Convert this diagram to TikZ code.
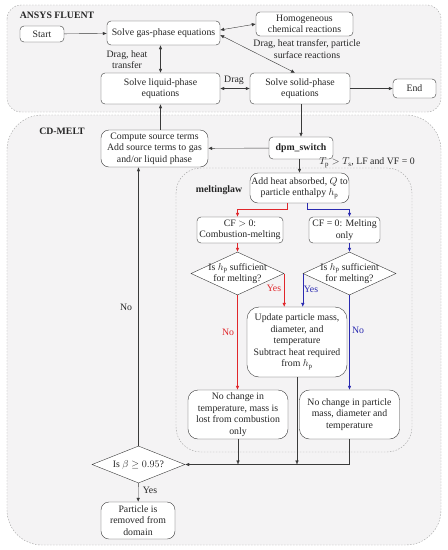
\documentclass[tikz,border=0pt]{standalone}
\usepackage{amsmath,amssymb}
\usepackage{fontspec}
\setmainfont{Liberation Serif}
\usepackage{tikz}
\usetikzlibrary{shapes.geometric,arrows.meta,positioning,calc}

\definecolor{regionfill}{HTML}{F4F3F4}
\definecolor{linegray}{HTML}{3A3A3A}
\definecolor{redline}{HTML}{E0262B}
\definecolor{blueline}{HTML}{2A2AB0}

\begin{document}
\begin{tikzpicture}[x=1pt, y=-1pt,
    every node/.style={font=\fontsize{9.8}{11.5}\selectfont, text=black!85},
    box/.style={draw=linegray, fill=white, rounded corners=4pt, align=center, inner sep=1pt},
    dia/.style={draw=linegray, fill=white, diamond, inner sep=0pt},
    region/.style={draw=gray!75, dash pattern=on 1.5pt off 1.5pt, fill=regionfill},
    arr/.style={draw=linegray, -{Latex[length=4pt,width=3.5pt]}},
    darr/.style={draw=linegray, {Latex[length=4pt,width=3.5pt]}-{Latex[length=4pt,width=3.5pt]}},
    tag/.style={font=\fontsize{9.8}{11.5}\selectfont\bfseries}]
    \useasboundingbox (0,0) rectangle (448,550);

    % Regions
    \draw[region, rounded corners=14pt] (7,5) rectangle (441,112);
    \draw[region, rounded corners=35pt] (7,115) rectangle (441,545);
    \draw[region, rounded corners=25pt] (176,168) rectangle (412,452);
    \node[tag] (fluent) at (57,15) {ANSYS FLUENT};
    \node[tag] (cdmelt) at (62,131) {CD-MELT};
    \node[tag] (mlaw) at (219,190) {meltinglaw};

    % ANSYS FLUENT nodes
    \node[box, minimum width=44pt, minimum height=16pt] (start) at (42,34) {Start};
    \node[box, minimum width=113pt, minimum height=24pt] (gas) at (163.5,33) {Solve gas-phase equations};
    \node[box, minimum width=97pt, minimum height=24pt] (homog) at (304.5,24) {Homogeneous\\chemical reactions};
    \node[box, minimum width=119pt, minimum height=31pt] (liquid) at (160.5,88.5) {Solve liquid-phase\\equations};
    \node[box, minimum width=100pt, minimum height=31pt] (solid) at (300,88.5) {Solve solid-phase\\equations};
    \node[box, minimum width=43pt, minimum height=19pt] (end) at (414.5,88.5) {End};

    % CD-MELT nodes
    \node[box, rounded corners=8pt, minimum width=107pt, minimum height=37pt] (compute) at (154.5,148.5) {Compute source terms\\Add source terms to gas\\and/or liquid phase};
    \node[box, minimum width=64pt, minimum height=22pt, font=\fontsize{9.8}{11.5}\selectfont\bfseries] (dpm) at (301,148) {dpm\_switch};
    \node[dia, minimum width=93pt, minimum height=37pt, label={[align=center]center:Is $\beta \geq 0.95$?}] (beta) at (138.5,464.5) {};
    \node[box, rounded corners=8pt, minimum width=74pt, minimum height=37pt] (removed) at (138,520.5) {Particle is\\removed from\\domain};

    % meltinglaw nodes
    \node[box, rounded corners=8pt, minimum width=99pt, minimum height=30pt] (addheat) at (299.5,188) {Add heat absorbed, $Q$ to\\particle enthalpy $h_\mathrm{p}$};
    \node[box, minimum width=86pt, minimum height=26pt] (cfpos) at (240,230) {CF $>$ 0:\\Combustion-melting};
    \node[box, minimum width=71pt, minimum height=26pt] (cfzero) at (344.5,230) {CF = 0: Melting\\only};
    \node[dia, minimum width=93pt, minimum height=43pt, label={[align=center]center:Is $h_\mathrm{p}$ sufficient\\for melting?}] (dl) at (237.5,273.5) {};
    \node[dia, minimum width=93pt, minimum height=43pt, label={[align=center]center:Is $h_\mathrm{p}$ sufficient\\for melting?}] (dr) at (349.5,273.5) {};
    \node[box, rounded corners=12pt, minimum width=100pt, minimum height=70pt] (update) at (297,342) {Update particle mass,\\diameter, and\\temperature\\Subtract heat required\\from $h_\mathrm{p}$};
    \node[box, rounded corners=10pt, minimum width=100pt, minimum height=49pt] (nl) at (238,414.5) {No change in\\temperature, mass is\\lost from combustion\\only};
    \node[box, rounded corners=10pt, minimum width=100pt, minimum height=49pt] (nr) at (349.5,414.5) {No change in particle\\mass, diameter and\\temperature};

    % ANSYS FLUENT connectors
    \draw[arr] (start) -- (gas);
    \draw[darr] ([yshift=3pt]gas.east) -- (homog.west);
    \draw[darr] ([yshift=-2pt]gas.east) -- ([xshift=-5pt]solid.north);
    \draw[darr] (liquid.north |- gas.south) -- (liquid.north);
    \draw[darr] (liquid) -- (solid);
    \draw[arr] (solid) -- (end);
    \node (lbl1) at (127,59.5) [align=center] {Drag, heat\\transfer};
    \node (lbl2) at (307,49) [align=center] {Drag, heat transfer, particle\\surface reactions};
    \node (lbl3) at (234,80) {Drag};

    % CD-MELT connectors
    \draw[arr] (solid.south -| dpm.north) -- (dpm.north);
    \draw[arr] (dpm) -- (compute);
    \draw[arr] (liquid.south |- compute.north) -- (liquid.south);
    \draw[arr] (dpm.south -| addheat.north) -- (addheat.north);
    \node (lbl4) at (367,163) {$T_\mathrm{p} > T_\mathrm{s}$, LF and VF = 0};

    % meltinglaw connectors
    \draw[arr, draw=redline] ([xshift=-12pt]addheat.south) -- ++(0,6) -| (cfpos.north -| dl.north);
    \draw[arr, draw=blueline] ([xshift=8pt]addheat.south) -- ++(0,6) -| (cfzero.north -| dr.north);
    \draw[arr, draw=redline] (cfpos.south -| dl.north) -- (dl.north);
    \draw[arr, draw=blueline] (cfzero.south -| dr.north) -- (dr.north);
    \draw[arr, draw=redline] (dl.east) -- (dl.east |- update.north);
    \draw[arr, draw=blueline] (dr.west) -- (dr.west |- update.north);
    \draw[arr, draw=redline] (dl.south) -- (dl.south |- nl.north);
    \draw[arr, draw=blueline] (dr.south) -- (dr.south |- nr.north);
    \node[text=redline] (yes1) at (274,288) {Yes};
    \node[text=blueline] (yes2) at (311,289) {Yes};
    \node[text=redline] (no1) at (228,332) {No};
    \node[text=blueline] (no2) at (358,330) {No};

    % Exit check
    \draw[arr] (nl.south) -- (nl.south |- beta.east);
    \draw[arr] (update.south) -- (update.south |- beta.east);
    \draw[arr] (nr.south) |- (beta.east);
    \draw[arr] (beta.north) -- (beta.north |- compute.south);
    \draw[arr] (beta) -- (removed);
    \node (no3) at (126,307) {No};
    \node (yes3) at (150,490) {Yes};
\end{tikzpicture}
\end{document}
